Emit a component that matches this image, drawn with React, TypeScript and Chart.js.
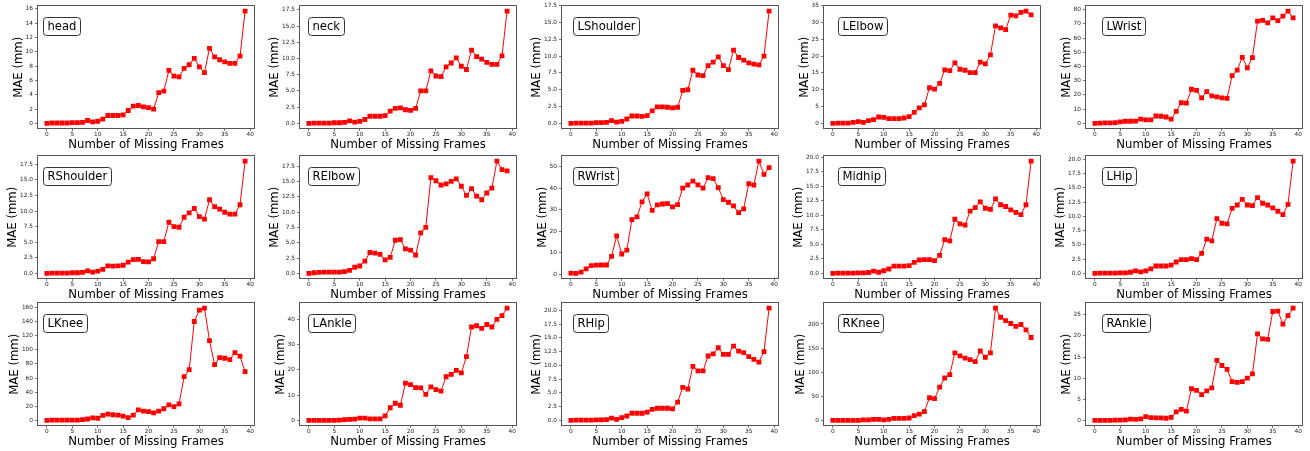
import React, { useEffect, useRef } from "react";
import { Chart, registerables } from "chart.js";

Chart.register(...registerables);

// ---------- data ----------
const FRAMES = [0, 1, 2, 3, 4, 5, 6, 7, 8, 9, 10, 11, 12, 13, 14, 15, 16, 17, 18, 19, 20, 21, 22, 23, 24, 25, 26, 27, 28, 29, 30, 31, 32, 33, 34, 35, 36, 37, 38, 39];

const HEAD = [0, 0.05, 0.05, 0.05, 0.05, 0.1, 0.1, 0.15, 0.4, 0.2, 0.3, 0.6, 1.1, 1.1, 1.1, 1.2, 1.8, 2.4, 2.5, 2.3, 2.2, 2.0, 4.3, 4.5, 7.4, 6.6, 6.5, 7.7, 8.2, 9.1, 7.9, 7.1, 10.5, 9.3, 8.9, 8.6, 8.4, 8.4, 9.4, 15.7];
const NECK = [0, 0.05, 0.05, 0.05, 0.05, 0.1, 0.1, 0.15, 0.4, 0.2, 0.3, 0.6, 1.1, 1.1, 1.1, 1.2, 1.9, 2.3, 2.4, 2.1, 2.0, 2.3, 5.0, 5.0, 8.1, 7.3, 7.2, 8.7, 9.3, 10.1, 8.8, 8.3, 11.3, 10.3, 9.9, 9.4, 9.1, 9.1, 10.4, 17.3];
const LSHOULDER = [0, 0.05, 0.05, 0.05, 0.05, 0.1, 0.1, 0.15, 0.4, 0.2, 0.3, 0.65, 1.1, 1.1, 1.05, 1.15, 1.85, 2.45, 2.45, 2.4, 2.3, 2.4, 4.9, 5.0, 7.9, 7.2, 7.1, 8.6, 9.1, 9.9, 8.6, 8.0, 10.9, 9.8, 9.4, 9.0, 8.8, 8.7, 10.0, 16.7];
const LELBOW = [0, 0.1, 0.1, 0.1, 0.3, 0.5, 0.3, 0.8, 1.1, 1.9, 1.8, 1.4, 1.4, 1.4, 1.6, 2.0, 3.3, 4.6, 5.5, 10.6, 10.2, 11.9, 15.9, 15.7, 18.0, 16.1, 15.8, 15.1, 15.1, 18.2, 17.7, 20.4, 29.0, 28.4, 27.9, 32.2, 32.0, 33.0, 33.4, 32.3];
const LWRIST = [0, 0.2, 0.3, 0.4, 0.5, 1.0, 1.5, 1.5, 1.6, 3.0, 2.5, 2.5, 5.2, 5.0, 4.5, 3.0, 8.5, 14.5, 14.3, 24.0, 23.2, 18.0, 22.3, 19.3, 18.6, 18.0, 17.6, 33.6, 37.5, 46.5, 39.0, 46.3, 72.0, 72.5, 70.7, 74.2, 72.3, 75.5, 79.0, 74.2];
const RSHOULDER = [0, 0.05, 0.05, 0.05, 0.05, 0.1, 0.1, 0.15, 0.4, 0.2, 0.35, 0.65, 1.2, 1.15, 1.2, 1.3, 1.8, 2.2, 2.25, 1.9, 1.85, 2.35, 5.1, 5.1, 8.2, 7.5, 7.4, 9.0, 9.7, 10.4, 9.1, 8.7, 11.8, 10.7, 10.3, 9.8, 9.5, 9.5, 11.0, 18.0];
const RELBOW = [0, 0.1, 0.15, 0.2, 0.2, 0.2, 0.2, 0.3, 0.5, 1.0, 1.2, 2.0, 3.4, 3.3, 3.1, 2.2, 2.6, 5.4, 5.5, 4.0, 3.8, 3.0, 6.6, 7.5, 15.6, 15.1, 14.4, 14.6, 15.0, 15.4, 14.2, 12.7, 13.8, 12.6, 12.0, 13.1, 13.9, 18.3, 16.9, 16.7];
const RWRIST = [0.5, 0.4, 1.0, 2.5, 4.0, 4.2, 4.3, 4.3, 8.3, 17.8, 9.4, 11.2, 25.3, 26.6, 33.6, 37.3, 29.6, 32.2, 32.6, 32.8, 31.3, 32.3, 40.0, 41.4, 43.2, 41.5, 40.0, 44.8, 44.4, 40.2, 34.6, 33.4, 31.7, 28.6, 30.3, 42.0, 41.4, 52.5, 46.3, 49.5];
const MIDHIP = [0, 0.05, 0.05, 0.05, 0.05, 0.1, 0.1, 0.15, 0.4, 0.2, 0.45, 0.75, 1.25, 1.25, 1.25, 1.35, 1.9, 2.3, 2.35, 2.35, 2.2, 3.1, 5.8, 5.6, 9.3, 8.5, 8.3, 10.7, 11.3, 12.3, 11.2, 11.0, 12.8, 11.8, 11.5, 10.9, 10.5, 10.1, 11.8, 19.3];
const LHIP = [0, 0.05, 0.05, 0.05, 0.05, 0.1, 0.1, 0.2, 0.45, 0.25, 0.45, 0.8, 1.3, 1.3, 1.3, 1.45, 2.0, 2.4, 2.4, 2.6, 2.4, 3.5, 6.0, 5.7, 9.6, 8.8, 8.7, 11.4, 12.0, 13.0, 12.0, 11.9, 13.3, 12.3, 12.0, 11.5, 10.9, 10.3, 12.1, 19.7];
const LKNEE = [0, 0.5, 0.5, 0.5, 0.5, 0.5, 0.5, 1.0, 2.0, 3.5, 3.0, 7.0, 9.0, 8.0, 7.5, 6.0, 4.0, 7.5, 15.0, 13.0, 12.5, 10.5, 13.0, 16.5, 22.0, 19.5, 23.5, 62.0, 72.0, 140.0, 156.0, 159.0, 113.0, 79.0, 89.0, 88.0, 86.0, 96.0, 91.0, 69.0];
const LANKLE = [0, 0, 0, 0, 0, 0, 0.1, 0.3, 0.4, 0.5, 0.9, 0.9, 0.6, 0.6, 0.6, 1.8, 5.0, 6.8, 6.0, 14.8, 14.2, 13.0, 12.9, 10.3, 13.3, 12.2, 11.6, 17.3, 18.2, 19.8, 18.8, 25.3, 37.0, 37.5, 36.5, 38.0, 37.0, 40.0, 41.5, 44.5];
const RHIP = [0, 0.05, 0.05, 0.05, 0.05, 0.1, 0.1, 0.15, 0.4, 0.2, 0.5, 0.8, 1.3, 1.3, 1.3, 1.5, 2.0, 2.2, 2.2, 2.2, 2.1, 3.3, 6.0, 5.7, 9.8, 9.0, 9.0, 11.7, 12.1, 13.2, 12.0, 12.0, 13.5, 12.6, 12.3, 11.6, 11.1, 10.6, 12.5, 20.4];
const RKNEE = [0, 0, 0, 0, 0, 0, 1, 1, 2, 2, 1, 2, 4, 4, 4, 5, 10, 13, 18, 47, 45, 69, 88, 95, 140, 134, 129, 126, 122, 144, 131, 140, 233, 214, 207, 201, 195, 199, 188, 172];
const RANKLE = [0, 0, 0, 0, 0.05, 0.05, 0.1, 0.3, 0.25, 0.35, 0.9, 0.65, 0.6, 0.6, 0.5, 0.7, 2.0, 2.6, 2.2, 7.5, 7.1, 6.1, 7.0, 7.7, 14.2, 13.0, 12.1, 9.2, 9.0, 9.2, 10.0, 11.0, 20.5, 19.3, 19.2, 25.8, 25.9, 22.8, 24.8, 26.6];

const JOINTS = ["head", "neck", "LShoulder", "LElbow", "LWrist", "RShoulder", "RElbow", "RWrist", "Midhip", "LHip", "LKnee", "LAnkle", "RHip", "RKnee", "RAnkle"];
const SERIES = [HEAD, NECK, LSHOULDER, LELBOW, LWRIST, RSHOULDER, RELBOW, RWRIST, MIDHIP, LHIP, LKNEE, LANKLE, RHIP, RKNEE, RANKLE];
const Y_STEPS = [2, 2.5, 2.5, 5, 10, 2.5, 2.5, 10, 2.5, 2.5, 20, 10, 2.5, 50, 5];
const X_STEP = 5;
const X_TITLE = "Number of Missing Frames";
const Y_TITLE = "MAE (mm)";

// ---------- layout / style ----------
const FONT = '"DejaVu Sans", "Liberation Sans", sans-serif';
const COL_LEFT = [0, 262, 524, 786, 1048];
const ROW_TOP = [0, 150, 297];
const CANVAS_W = 262;
const CANVAS_H = 152;
const PLOT_LEFT = 37;
const PAD_TOP = 5;
const PAD_RIGHT = 7;
const X_AXIS_H = 23;
const TICK_FONT = 5.8;
const TITLE_FONT = 11.7;
const BOX_FONT = 11.6;
const TICK_LEN = 2;
const Y_TICK_PAD = 2;
const TITLE_GAP = 7;
const BOX_OFFSET_X = [6, 9, 12, 15, 17];
const BOX_OFFSET_Y = 12;
const SPINE = "#555";
const LINE_COLOR = "#ff0000";

function Panel({ idx }: { idx: number }) {
  const ref = useRef<HTMLCanvasElement>(null);

  useEffect(() => {
    if (!ref.current) return;
    const values = SERIES[idx];
    const step = Y_STEPS[idx];
    const lo = Math.min(...values);
    const hi = Math.max(...values);
    const m = (hi - lo) * 0.05;
    const ymin = lo - m;
    const ymax = hi + m;
    const xlo = Math.min(...FRAMES);
    const xhi = Math.max(...FRAMES);
    const xm = (xhi - xlo) * 0.05;
    const dec = Number.isInteger(step) ? 0 : 1;
    const fmt = (v: number) => (Math.abs(v) < 1e-9 ? 0 : v).toFixed(dec);

    const mctx = document.createElement("canvas").getContext("2d")!;
    mctx.font = `${TICK_FONT}px ${FONT}`;
    let labelW = 0;
    for (let v = Math.ceil(ymin / step) * step; v <= ymax + 1e-9; v += step) {
      labelW = Math.max(labelW, mctx.measureText(fmt(v)).width);
    }
    const titleCenter = PLOT_LEFT - TICK_LEN - Y_TICK_PAD - labelW - TITLE_GAP;
    const titlePadTop = Math.max(0, titleCenter - (TITLE_FONT * 1.2) / 2);

    const col = idx % 5;
    const label = JOINTS[idx];

    const framePlugin = {
      id: "frameAndLabel",
      afterDraw(chart: any) {
        const { ctx, chartArea: a } = chart;
        ctx.save();
        ctx.strokeStyle = SPINE;
        ctx.lineWidth = 1;
        const l = Math.round(a.left), t = Math.round(a.top);
        const r = Math.round(a.right), b = Math.round(a.bottom);
        ctx.strokeRect(l + 0.5, t + 0.5, r - l - 1, b - t - 1);

        ctx.font = `${BOX_FONT}px ${FONT}`;
        const tw = ctx.measureText(label).width;
        const bx = Math.round(a.left + BOX_OFFSET_X[col]) + 0.5;
        const by = Math.round(a.top + BOX_OFFSET_Y) + 0.5;
        const bw = Math.round(tw + 8);
        const bh = 18;
        ctx.beginPath();
        if ((ctx as any).roundRect) (ctx as any).roundRect(bx, by, bw, bh, 3);
        else ctx.rect(bx, by, bw, bh);
        ctx.fillStyle = "#fff";
        ctx.fill();
        ctx.strokeStyle = "#333";
        ctx.lineWidth = 1;
        ctx.stroke();
        ctx.fillStyle = "#000";
        ctx.textAlign = "left";
        ctx.textBaseline = "middle";
        ctx.fillText(label, bx + 4, by + bh / 2 + 0.5);
        ctx.restore();
      },
    };

    const tickFont = { family: FONT, size: TICK_FONT };
    const titleFont = { family: FONT, size: TITLE_FONT };
    const grid = {
      display: true,
      drawOnChartArea: false,
      drawTicks: true,
      tickLength: TICK_LEN,
      color: SPINE,
      lineWidth: 0.8,
    };

    const chart = new Chart(ref.current, {
      type: "line",
      data: {
        datasets: [
          {
            data: FRAMES.map((f, i) => ({ x: f, y: values[i] })),
            borderColor: LINE_COLOR,
            backgroundColor: LINE_COLOR,
            borderWidth: 1,
            pointStyle: "rect",
            pointRadius: 3.4,
            pointBorderWidth: 0,
            pointBackgroundColor: LINE_COLOR,
            tension: 0,
            fill: false,
          },
        ],
      },
      options: {
        responsive: false,
        maintainAspectRatio: false,
        animation: false,
        devicePixelRatio: 1,
        events: [],
        layout: { padding: { top: PAD_TOP, right: PAD_RIGHT, bottom: 0, left: 0 } },
        plugins: {
          legend: { display: false },
          tooltip: { enabled: false },
          title: { display: false },
        },
        scales: {
          x: {
            type: "linear",
            min: xlo - xm,
            max: xhi + xm,
            ticks: {
              stepSize: X_STEP,
              includeBounds: false,
              font: tickFont,
              color: "#222",
              padding: 0.5,
              maxRotation: 0,
              autoSkip: false,
            },
            grid,
            border: { display: false },
            title: {
              display: true,
              text: X_TITLE,
              font: titleFont,
              color: "#000",
              padding: { top: 0, bottom: 0 },
            },
            afterFit: (s: any) => {
              s.height = X_AXIS_H;
            },
          },
          y: {
            type: "linear",
            min: ymin,
            max: ymax,
            ticks: {
              stepSize: step,
              includeBounds: false,
              font: tickFont,
              color: "#222",
              padding: Y_TICK_PAD,
              autoSkip: false,
              callback: (v: any) => fmt(Number(v)),
            },
            grid,
            border: { display: false },
            title: {
              display: true,
              text: Y_TITLE,
              font: titleFont,
              color: "#000",
              padding: { top: titlePadTop, bottom: 0 },
            },
            afterFit: (s: any) => {
              s.width = PLOT_LEFT;
            },
          },
        },
      } as any,
      plugins: [framePlugin],
    });
    return () => chart.destroy();
  }, [idx]);

  const col = idx % 5;
  const row = Math.floor(idx / 5);
  return (
    <div
      style={{
        position: "absolute",
        left: COL_LEFT[col],
        top: ROW_TOP[row],
        width: CANVAS_W,
        height: CANVAS_H,
      }}
    >
      <canvas ref={ref} width={CANVAS_W} height={CANVAS_H} style={{ display: "block" }} />
    </div>
  );
}

export default function App() {
  return (
    <div
      style={{
        position: "fixed",
        left: 0,
        top: 0,
        width: 1310,
        height: 451,
        background: "#fff",
        overflow: "hidden",
      }}
    >
      {JOINTS.map((_, i) => (
        <Panel key={i} idx={i} />
      ))}
    </div>
  );
}
